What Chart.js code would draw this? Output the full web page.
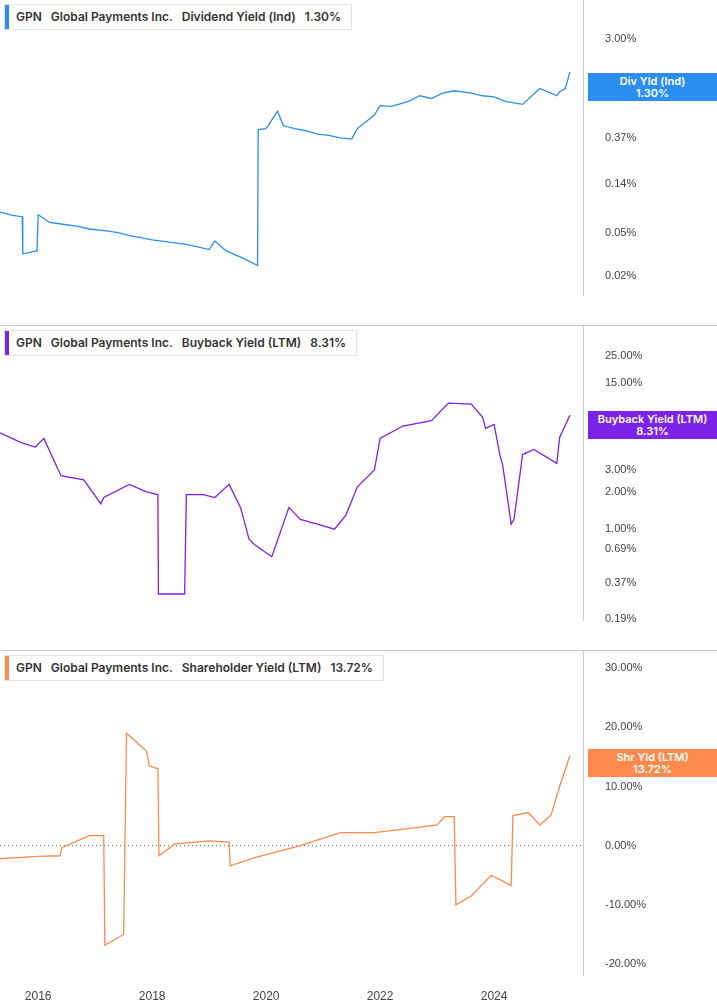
<!DOCTYPE html>
<html><head><meta charset="utf-8">
<script src="https://cdn.jsdelivr.net/npm/chart.js@4/dist/chart.umd.min.js"></script>
<style>
body{margin:0;background:#fff;font-family:Inter,"Noto Sans",sans-serif;}
.panel{position:absolute;left:0;width:717px;}
.leg{position:absolute;left:4px;top:4px;height:24px;line-height:24px;border:1px solid #e3e3e3;background:#fff;font-size:12px;font-weight:600;color:#333;padding:0 10px 0 11px;white-space:nowrap;z-index:2}
.leg i{position:absolute;left:0;top:0;bottom:0;width:4px}
.leg span{margin-right:9px}
.badge{position:absolute;left:588px;width:129px;color:#fff;font-size:11px;font-weight:600;text-align:center;line-height:12px;padding:2px 0;z-index:2}
.sep{position:absolute;left:0;width:717px;height:1px;background:#ccc;z-index:2}
</style></head><body>
<div class="panel" style="top:0;height:325px"><canvas id="c1"></canvas>
<div class="leg"><i style="background:#2b8ef0"></i><span>GPN</span><span>Global Payments Inc.</span><span>Dividend Yield (Ind)</span>1.30%</div>
<div class="badge" style="top:73px;background:#2b8ef0">Div Yld (Ind)<br>1.30%</div></div>
<div class="sep" style="top:325px"></div>
<div class="panel" style="top:326px;height:324px"><canvas id="c2"></canvas>
<div class="leg"><i style="background:#7d22e8"></i><span>GPN</span><span>Global Payments Inc.</span><span>Buyback Yield (LTM)</span>8.31%</div>
<div class="badge" style="top:85px;background:#7d22e8">Buyback Yield (LTM)<br>8.31%</div></div>
<div class="sep" style="top:650px"></div>
<div class="panel" style="top:651px;height:354px"><canvas id="c3"></canvas>
<div class="leg"><i style="background:#ff8a4c"></i><span>GPN</span><span>Global Payments Inc.</span><span>Shareholder Yield (LTM)</span>13.72%</div>
<div class="badge" style="top:98px;background:#ff8a4c">Shr Yld (LTM)<br>13.72%</div></div>
<script>
// dates in fractional years
const divDates=[2015.33,2015.55,2015.72,2015.73,2015.98,2016.0,2016.2,2016.4,2016.7,2016.9,2017.2,2017.4,2017.6,2017.8,2018.0,2018.3,2018.6,2018.8,2019.0,2019.1,2019.3,2019.6,2019.85,2019.86,2020.0,2020.2,2020.3,2020.5,2020.7,2020.9,2021.1,2021.3,2021.5,2021.6,2021.9,2022.0,2022.2,2022.5,2022.7,2022.9,2023.1,2023.3,2023.6,2023.8,2024.0,2024.2,2024.5,2024.8,2025.0,2025.1,2025.15,2025.25,2025.33];
const divVals=[0.077,0.072,0.070,0.032,0.034,0.073,0.062,0.060,0.057,0.054,0.052,0.050,0.047,0.045,0.043,0.041,0.039,0.037,0.035,0.042,0.034,0.029,0.025,0.44,0.45,0.65,0.48,0.45,0.43,0.40,0.39,0.37,0.36,0.45,0.60,0.73,0.72,0.80,0.90,0.85,0.95,1.00,0.95,0.90,0.88,0.80,0.75,1.05,0.95,0.90,0.98,1.05,1.49];
const bbDates=[2015.33,2015.7,2015.95,2016.1,2016.4,2016.8,2017.1,2017.15,2017.6,2017.9,2018.1,2018.11,2018.57,2018.6,2018.9,2019.1,2019.35,2019.55,2019.7,2019.8,2020.1,2020.4,2020.6,2020.9,2021.2,2021.4,2021.6,2021.9,2022.0,2022.4,2022.9,2023.2,2023.6,2023.8,2023.85,2024.0,2024.1,2024.15,2024.3,2024.35,2024.5,2024.7,2025.1,2025.15,2025.33];
const bbVals=[6.0,5.0,4.6,5.4,2.7,2.5,1.6,1.8,2.3,2.0,1.9,0.30,0.30,1.9,1.9,1.8,2.3,1.5,0.83,0.75,0.6,1.5,1.2,1.1,1.0,1.3,2.2,3.0,5.4,6.8,7.5,10.4,10.2,8.0,6.5,7.0,4.0,3.3,1.1,1.2,4.0,4.4,3.4,5.5,8.3];
const shDates=[2015.33,2016.0,2016.38,2016.42,2016.9,2017.15,2017.17,2017.5,2017.55,2017.9,2017.95,2018.1,2018.12,2018.4,2019.0,2019.35,2019.37,2019.8,2020.6,2021.3,2021.9,2022.6,2023.0,2023.13,2023.3,2023.33,2023.6,2023.95,2024.3,2024.33,2024.6,2024.8,2025.0,2025.15,2025.33];
const shVals=[-2.2,-1.8,-1.7,-0.3,1.7,1.7,-16.8,-15.0,19.0,16.0,13.5,13.0,-1.7,0.3,0.8,0.6,-3.4,-2.0,0.0,2.2,2.2,3.0,3.5,4.9,4.9,-10.0,-8.5,-5.0,-6.7,5.1,5.6,3.5,5.2,10.0,15.2];
const yearTicks=[2016,2018,2020,2022,2024];
const divTicks=[3,1,0.37,0.14,0.05,0.02];
const bbTicks=[25,15,6,3,2,1,0.69,0.37,0.19];
const shTicks=[30,20,10,0,-10,-20];

function pct(v){return v.toFixed(2)+'%';}
function noPad(s){s.paddingTop=0;s.paddingBottom=0;s.paddingLeft=0;s.paddingRight=0;}
function mk(id,dates,vals,color,type,min,max,ticks,showX,h,zero){
  const c=document.getElementById(id);c.width=717;c.height=h;c.style.width='717px';c.style.height=h+'px';
  const ds=[{data:dates.map((d,i)=>({x:d,y:vals[i]})),borderColor:color,borderWidth:1.3,pointRadius:0,tension:0}];
  if(zero) ds.push({data:[{x:2015.33,y:0},{x:2025.56,y:0}],borderColor:'#555',borderWidth:1,borderDash:[1,3],pointRadius:0});
  new Chart(c,{type:'line',data:{datasets:ds},options:{responsive:false,animation:false,events:[],
    layout:{padding:0},plugins:{legend:{display:false},tooltip:{enabled:false}},
    scales:{
      x:{type:'linear',min:2015.33,max:2025.56,display:showX,grid:{display:false},border:{display:false},
        afterBuildTicks:s=>{s.ticks=yearTicks.map(v=>({value:v}));},
        afterFit:s=>{noPad(s);s.height=30;},
        ticks:{color:'#444',font:{size:12},callback:v=>String(v),padding:6,maxRotation:0}},
      y:{type:type,position:'right',min:min,max:max,grid:{display:false},border:{display:true,color:'#ccc'},
        afterBuildTicks:s=>{s.ticks=ticks.map(v=>({value:v}));},
        afterFit:s=>{s.width=134;noPad(s);},
        ticks:{color:'#444',font:{size:11},callback:v=>pct(v),padding:14,autoSkip:false}}
    }}});
}
mk('c1',divDates,divVals,'#2b8ef0','logarithmic',0.0134,6.8,divTicks,false,325,false);
mk('c2',bbDates,bbVals,'#7d22e8','logarithmic',0.185,43.6,bbTicks,false,324,false);
mk('c3',shDates,shVals,'#ff8a4c','linear',-21.85,32.9,shTicks,true,354,true);
</script></body></html>
